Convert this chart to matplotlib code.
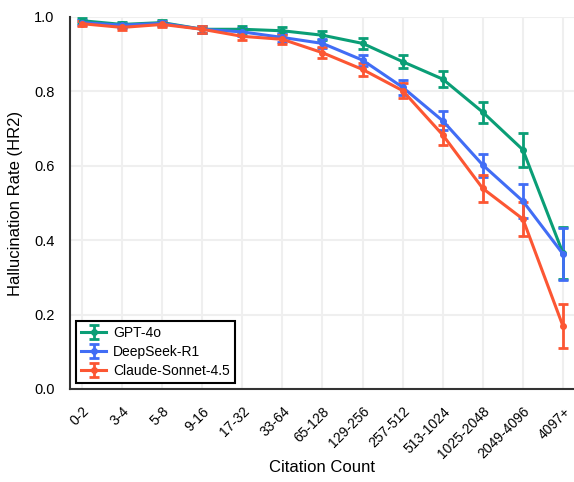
import numpy as np
import matplotlib
matplotlib.use('Agg')
from matplotlib import pyplot as plt

plt.rcParams['font.family'] = ['Liberation Sans', 'DejaVu Sans']

bins = ['0-2', '3-4', '5-8', '9-16', '17-32', '33-64', '65-128', '129-256',
        '257-512', '513-1024', '1025-2048', '2049-4096', '4097+']

gpt = [0.990, 0.980, 0.985, 0.967, 0.967, 0.963, 0.951, 0.929, 0.880, 0.833, 0.744, 0.643, 0.365]
gpt_err = [0.006, 0.007, 0.007, 0.009, 0.009, 0.010, 0.012, 0.014, 0.018, 0.022, 0.028, 0.045, 0.070]

deepseek = [0.985, 0.978, 0.983, 0.967, 0.960, 0.945, 0.929, 0.884, 0.811, 0.721, 0.602, 0.505, 0.363]
deepseek_err = [0.006, 0.007, 0.007, 0.009, 0.010, 0.011, 0.013, 0.015, 0.020, 0.025, 0.031, 0.045, 0.071]

claude = [0.982, 0.972, 0.980, 0.967, 0.948, 0.940, 0.904, 0.859, 0.802, 0.683, 0.539, 0.457, 0.169]
claude_err = [0.007, 0.008, 0.007, 0.009, 0.011, 0.012, 0.015, 0.017, 0.020, 0.028, 0.035, 0.045, 0.060]

colors = {'GPT-4o': '#0a9e76', 'DeepSeek-R1': '#416df5', 'Claude-Sonnet-4.5': '#fc5633'}

fig = plt.figure(figsize=(5.74, 4.82), dpi=100)
ax = fig.add_axes([70 / 574, 1 - 389 / 482, 505 / 574, 372 / 482])

x = np.arange(len(bins))
for name, vals, err in [('GPT-4o', gpt, gpt_err),
                        ('DeepSeek-R1', deepseek, deepseek_err),
                        ('Claude-Sonnet-4.5', claude, claude_err)]:
    ax.errorbar(x, vals, yerr=err, color=colors[name], lw=2.2, marker='o', ms=4,
                capsize=3.5, capthick=2, elinewidth=2, label=name)

ax.set_xlim(-0.3, len(bins) - 0.7)
ax.set_ylim(0, 1.0)
ax.set_yticks([0.0, 0.2, 0.4, 0.6, 0.8, 1.0])
ax.set_xticks(x)
ax.set_xticklabels(bins, rotation=45, ha='right', rotation_mode='anchor', fontsize=10)
ax.tick_params(axis='y', labelsize=10.5, pad=11)
ax.tick_params(axis='x', pad=11)
ax.tick_params(length=0)
ax.grid(True, color='#efefef', lw=1.5)
ax.set_axisbelow(True)

for s in ['top', 'right']:
    ax.spines[s].set_visible(False)
for s in ['left', 'bottom']:
    ax.spines[s].set_color('#333333')
    ax.spines[s].set_linewidth(1.5)

ax.set_xlabel('Citation Count', fontsize=12)
ax.xaxis.set_label_coords(0.5, -0.19)
ax.set_ylabel('Hallucination Rate (HR2)', fontsize=12, labelpad=8)

leg = ax.legend(loc='lower left', fontsize=10, fancybox=False, framealpha=1,
                edgecolor='black', borderaxespad=0.4, handlelength=1.8,
                handletextpad=0.5, labelspacing=0.35)
leg.get_frame().set_linewidth(1.5)

fig.savefig('out.png', dpi=100)
